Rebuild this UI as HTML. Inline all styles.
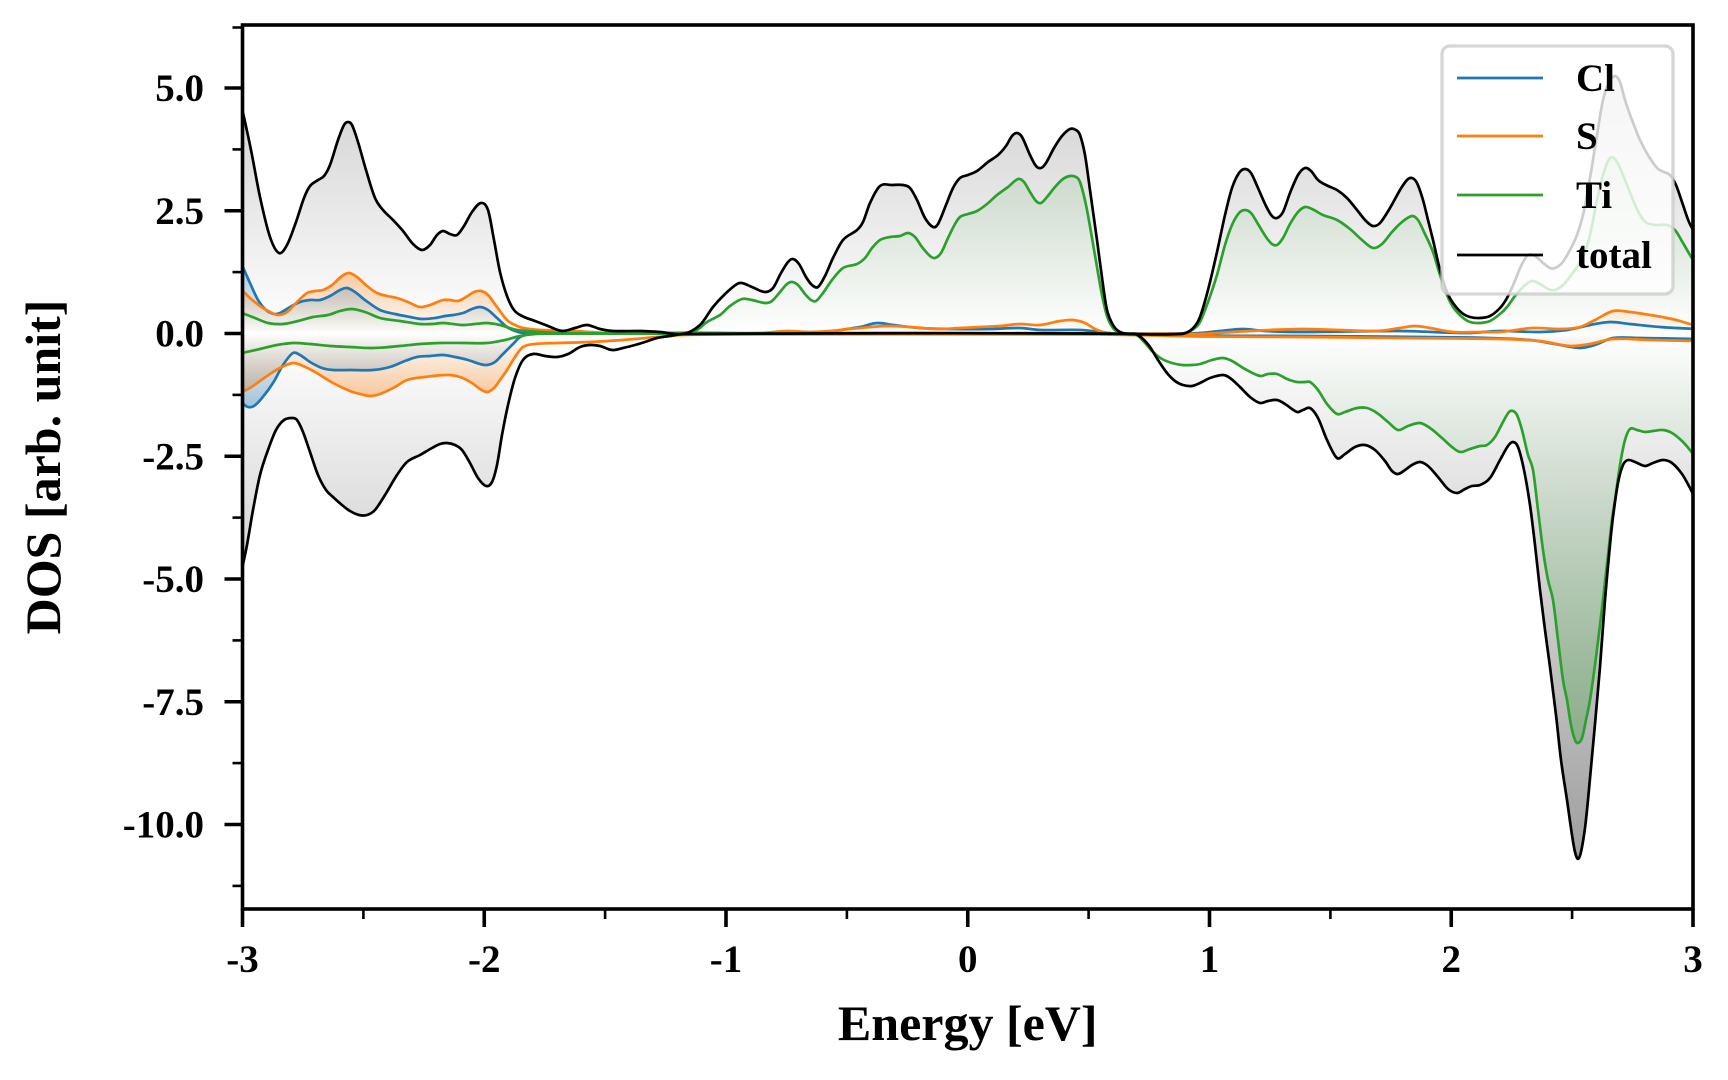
<!DOCTYPE html>
<html><head><meta charset="utf-8"><style>
html,body{margin:0;padding:0;background:#fff;}
svg{display:block;}
text{font-family:"Liberation Serif","DejaVu Serif",serif;font-weight:bold;fill:#000;}
</style></head><body>
<svg id="chart" width="1728" height="1080" viewBox="0 0 1728 1080" xmlns="http://www.w3.org/2000/svg">
<defs>
<clipPath id="ax"><rect x="242.5" y="25" width="1450.5" height="884"/></clipPath>
<linearGradient id="gTu" gradientUnits="userSpaceOnUse" x1="0" y1="333.5" x2="0" y2="-191.5"><stop offset="0" stop-color="#000" stop-opacity="0"/><stop offset="1" stop-color="#000" stop-opacity="0.38"/></linearGradient>
<linearGradient id="gTd" gradientUnits="userSpaceOnUse" x1="0" y1="333.5" x2="0" y2="858.5"><stop offset="0" stop-color="#000" stop-opacity="0"/><stop offset="1" stop-color="#000" stop-opacity="0.38"/></linearGradient>
<linearGradient id="gGu" gradientUnits="userSpaceOnUse" x1="0" y1="333.5" x2="0" y2="-73.5"><stop offset="0" stop-color="#2ca02c" stop-opacity="0"/><stop offset="1" stop-color="#2ca02c" stop-opacity="0.3"/></linearGradient>
<linearGradient id="gGd" gradientUnits="userSpaceOnUse" x1="0" y1="333.5" x2="0" y2="740.5"><stop offset="0" stop-color="#2ca02c" stop-opacity="0"/><stop offset="1" stop-color="#2ca02c" stop-opacity="0.3"/></linearGradient>
<linearGradient id="gSu" gradientUnits="userSpaceOnUse" x1="0" y1="333.5" x2="0" y2="269.5"><stop offset="0" stop-color="#ff7f0e" stop-opacity="0"/><stop offset="1" stop-color="#ff7f0e" stop-opacity="0.38"/></linearGradient>
<linearGradient id="gSd" gradientUnits="userSpaceOnUse" x1="0" y1="333.5" x2="0" y2="397.5"><stop offset="0" stop-color="#ff7f0e" stop-opacity="0"/><stop offset="1" stop-color="#ff7f0e" stop-opacity="0.38"/></linearGradient>
<linearGradient id="gCu" gradientUnits="userSpaceOnUse" x1="0" y1="333.5" x2="0" y2="259.5"><stop offset="0" stop-color="#1f77b4" stop-opacity="0"/><stop offset="1" stop-color="#1f77b4" stop-opacity="0.38"/></linearGradient>
<linearGradient id="gCd" gradientUnits="userSpaceOnUse" x1="0" y1="333.5" x2="0" y2="407.5"><stop offset="0" stop-color="#1f77b4" stop-opacity="0"/><stop offset="1" stop-color="#1f77b4" stop-opacity="0.38"/></linearGradient>
</defs>

<g id="data" clip-path="url(#ax)">
<!-- fills -->
<polygon fill="url(#gTu)" points="242,333.5 242,108 251,150 260,197 270,237 279,253 287,245 296,222 304,198 310,186 318,180 324,176 330,165 338,140 344,125 348,122 352,125 358,142 366,170 375,198 383,210 393,220 403,231 413,244 422,250 430,245 437,235 443,231 450,234 457,235 464,226 472,212 481,203 488,210 494,240 500,272 507,296 514,310 522,316 535,321 548,326 562,331 575,328 587,325 600,329 613,331 640,331 660,332 683,334 700,325 713,307 725,294 737,284 742,283 752,287 765,292 773,288 781,273 788,262 793,259 799,264 806,277 812,285 818,287 825,276 833,258 843,240 857,230 863,222 870,203 880,186 892,185 903,185 910,188 917,200 925,218 933,227 938,224 946,205 953,188 960,178 968,175 977,171 988,162 998,155 1006,146 1012,136 1017,133 1022,137 1030,155 1036,166 1041,168 1046,163 1054,148 1062,136 1070,129 1076,130 1080,135 1085,155 1090,190 1097,240 1103,285 1107,310 1113,325 1120,332 1130,334 1180,334 1188,332 1195,326 1200,317 1208,290 1217,252 1225,215 1232,188 1239,173 1245,169 1251,173 1258,188 1266,206 1272,216 1277,218 1283,212 1290,193 1298,175 1305,168 1311,171 1318,180 1326,185 1337,190 1347,198 1357,210 1366,221 1373,226 1380,223 1390,208 1400,190 1407,180 1412,178 1417,183 1423,200 1428,220 1433,240 1440,270 1447,292 1453,303 1462,313 1470,317 1480,318 1490,316 1500,308 1507,298 1514,283 1521,266 1528,255 1535,256 1542,262 1550,268 1555,268 1562,263 1570,250 1577,235 1583,215 1590,178 1597,135 1603,100 1609,82 1615,76 1620,82 1625,100 1632,120 1640,140 1648,155 1657,168 1664,172 1670,175 1676,185 1683,205 1689,222 1696,235 1696,333.5"/>
<polygon fill="url(#gTd)" points="242,333.5 242,569 247,545 253,510 260,475 268,450 276,430 284,420 292,418 297,420 303,432 310,452 318,475 326,490 333,497 342,505 350,511 359,515 367,515 375,510 385,495 397,475 407,462 420,455 432,448 440,444 447,443 455,445 462,450 470,463 478,478 486,486 492,482 497,465 502,435 508,405 515,378 523,360 533,354 545,356 557,357 568,354 580,347 590,345 600,346 612,350 623,348 635,345 645,342 657,338 670,336 683,334 1135,334 1143,339 1150,347 1158,360 1167,373 1175,381 1183,385 1192,386 1200,383 1210,378 1223,375 1230,378 1240,387 1250,397 1260,403 1268,401 1277,400 1285,404 1297,412 1303,410 1310,408 1318,418 1327,440 1337,458 1345,454 1355,447 1365,445 1375,450 1385,461 1392,471 1398,474 1405,470 1412,465 1420,462 1428,466 1438,477 1448,489 1457,493 1465,489 1472,486 1480,485 1490,478 1500,460 1508,446 1513,442 1518,447 1524,470 1530,505 1535,545 1540,590 1545,630 1550,667 1556,715 1561,760 1567,800 1572,835 1575,852 1578,859 1581,852 1585,828 1588,800 1594,735 1600,667 1605,600 1610,545 1613,517 1618,483 1623,465 1628,460 1635,462 1645,466 1653,463 1663,460 1672,463 1682,474 1690,488 1696,500 1696,333.5"/>
<polygon fill="url(#gGu)" points="242,333.5 242,313 255,318 268,323 283,324 298,321 313,317 328,315 340,311 352,309 365,312 380,318 400,321 420,324 432,324 443,323 453,324 463,325 475,324 487,323 500,325 517,330 540,332 560,333 600,333.5 650,333.5 687,333 697,330 707,322 720,315 730,306 742,299 752,300 765,303 772,301 780,292 787,284 792,282 798,285 805,294 811,300 816,301 823,293 832,280 843,268 857,264 865,258 872,248 880,240 890,237 900,236 908,233 915,237 922,247 930,256 935,258 941,253 948,238 955,224 960,217 968,214 977,211 987,204 997,195 1008,187 1018,179 1024,182 1030,192 1036,201 1041,203 1047,197 1055,187 1063,179 1070,176 1076,177 1080,182 1086,205 1092,238 1097,267 1102,295 1107,316 1113,328 1120,333 1130,334 1180,334 1188,332 1195,328 1200,322 1208,302 1217,275 1225,245 1232,225 1239,213 1245,210 1251,213 1258,224 1266,237 1272,244 1277,245 1283,238 1290,224 1298,212 1305,207 1312,209 1323,215 1337,220 1350,229 1362,240 1373,248 1382,244 1392,232 1402,222 1412,216 1418,220 1424,232 1433,252 1440,275 1447,295 1453,307 1462,317 1470,322 1480,323 1490,321 1500,314 1507,307 1515,296 1524,286 1532,281 1540,284 1548,289 1555,290 1563,285 1572,274 1583,257 1590,235 1597,200 1603,175 1610,158 1617,162 1625,180 1633,200 1640,215 1647,223 1657,225 1667,225 1675,230 1683,243 1690,255 1696,265 1696,333.5"/>
<polygon fill="url(#gGd)" points="242,333.5 242,353 260,349 277,345 293,343 310,344 330,346 350,347 373,348 400,346 420,344 440,343 465,343 487,343 505,340 520,336 535,334 560,333.5 1130,333.5 1138,336 1145,343 1153,352 1162,359 1172,363 1182,365 1192,365 1200,364 1212,360 1223,358 1232,361 1245,369 1260,376 1268,374 1277,374 1287,379 1297,382 1305,382 1310,382 1318,390 1327,404 1337,414 1345,412 1357,408 1367,408 1377,413 1388,422 1398,430 1408,426 1420,423 1430,428 1442,438 1452,447 1460,452 1470,449 1480,446 1487,445 1495,437 1503,422 1509,412 1513,411 1517,415 1522,430 1528,455 1533,470 1538,510 1543,550 1548,580 1553,600 1558,640 1563,680 1567,700 1571,725 1575,740 1578,743 1582,738 1586,720 1590,700 1595,665 1600,625 1603,600 1608,555 1612,520 1615,500 1620,465 1625,440 1630,429 1637,430 1645,432 1653,431 1663,430 1672,433 1682,441 1690,450 1696,458 1696,333.5"/>
<polygon fill="url(#gSu)" points="242,333.5 242,290 250,298 260,306 270,312 278,315 287,312 297,302 307,293 315,291 323,290 332,285 342,276 349,273 357,277 367,286 377,293 387,296 397,298 408,302 420,307 430,305 443,300 450,300 458,301 466,297 474,292 481,291 488,295 497,307 507,320 515,325 523,328 540,330 573,331 590,332 607,333 640,333 700,332.5 760,333 787,331 810,332 830,331 860,328 887,326 910,327 937,329 960,328 980,327 1000,326 1020,324 1040,325 1060,321 1073,320 1085,323 1095,329 1103,332 1115,333.5 1180,333.5 1200,334 1250,331 1300,329 1340,330 1377,331 1400,328 1415,326 1430,328 1453,332 1480,332 1500,332 1533,328 1560,329 1580,327 1595,320 1613,311 1630,312 1650,315 1667,318 1680,321 1696,326 1696,333.5"/>
<polygon fill="url(#gSd)" points="242,333.5 242,392 250,388 260,381 270,374 280,368 293,363 303,366 315,372 333,383 350,391 360,394 370,396 380,394 395,387 407,380 425,377 447,375 460,377 472,383 480,389 487,392 494,388 500,380 507,370 515,357 523,347 535,344 557,343 590,342 623,340 657,337 683,335 720,334.5 1100,334.5 1200,336.5 1300,337 1400,338 1500,339 1540,341 1570,346 1590,344 1613,339 1650,340 1696,341 1696,333.5"/>
<polygon fill="url(#gCu)" points="242,333.5 242,265 250,283 258,300 266,310 274,314 280,313 290,307 300,302 310,300 320,300 330,296 340,290 347,288 355,292 365,300 380,310 395,314 410,317 422,319 435,318 445,316 453,315 463,313 472,309 480,307 488,310 497,318 507,327 515,331 523,333 540,333.5 780,333.5 820,333 847,329 860,327 877,323 893,325 920,328 953,329 990,329 1020,328 1040,330 1080,330 1100,332 1115,333.5 1180,333.5 1200,333 1220,331 1243,329 1265,331 1300,332 1400,331 1467,333 1500,331 1540,332 1567,330 1590,325 1610,322 1630,324 1660,327 1696,329 1696,333.5"/>
<polygon fill="url(#gCd)" points="242,333.5 242,403 248,407 254,406 262,398 273,383 283,365 293,353 300,355 310,362 322,368 333,370 350,370 373,370 390,367 405,361 417,357 430,356 443,355 455,357 468,360 480,364 487,365 495,362 502,355 507,350 515,342 520,337 530,334 545,333.5 1150,333.5 1200,335.5 1300,336 1467,337.5 1530,340 1555,344 1580,348 1595,345 1613,338 1640,338 1696,339 1696,333.5"/>

<!-- lines -->
<g fill="none" stroke-width="2.7" stroke-linejoin="round" stroke-linecap="round">
<polyline stroke="#1f77b4" points="242,265 250,283 258,300 266,310 274,314 280,313 290,307 300,302 310,300 320,300 330,296 340,290 347,288 355,292 365,300 380,310 395,314 410,317 422,319 435,318 445,316 453,315 463,313 472,309 480,307 488,310 497,318 507,327 515,331 523,333 540,333.5 780,333.5 820,333 847,329 860,327 877,323 893,325 920,328 953,329 990,329 1020,328 1040,330 1080,330 1100,332 1115,333.5 1180,333.5 1200,333 1220,331 1243,329 1265,331 1300,332 1400,331 1467,333 1500,331 1540,332 1567,330 1590,325 1610,322 1630,324 1660,327 1696,329"/>
<polyline stroke="#1f77b4" points="242,403 248,407 254,406 262,398 273,383 283,365 293,353 300,355 310,362 322,368 333,370 350,370 373,370 390,367 405,361 417,357 430,356 443,355 455,357 468,360 480,364 487,365 495,362 502,355 507,350 515,342 520,337 530,334 545,333.5 1150,333.5 1200,335.5 1300,336 1467,337.5 1530,340 1555,344 1580,348 1595,345 1613,338 1640,338 1696,339"/>
<polyline stroke="#ff7f0e" points="242,290 250,298 260,306 270,312 278,315 287,312 297,302 307,293 315,291 323,290 332,285 342,276 349,273 357,277 367,286 377,293 387,296 397,298 408,302 420,307 430,305 443,300 450,300 458,301 466,297 474,292 481,291 488,295 497,307 507,320 515,325 523,328 540,330 573,331 590,332 607,333 640,333 700,332.5 760,333 787,331 810,332 830,331 860,328 887,326 910,327 937,329 960,328 980,327 1000,326 1020,324 1040,325 1060,321 1073,320 1085,323 1095,329 1103,332 1115,333.5 1180,333.5 1200,334 1250,331 1300,329 1340,330 1377,331 1400,328 1415,326 1430,328 1453,332 1480,332 1500,332 1533,328 1560,329 1580,327 1595,320 1613,311 1630,312 1650,315 1667,318 1680,321 1696,326"/>
<polyline stroke="#ff7f0e" points="242,392 250,388 260,381 270,374 280,368 293,363 303,366 315,372 333,383 350,391 360,394 370,396 380,394 395,387 407,380 425,377 447,375 460,377 472,383 480,389 487,392 494,388 500,380 507,370 515,357 523,347 535,344 557,343 590,342 623,340 657,337 683,335 720,334.5 1100,334.5 1200,336.5 1300,337 1400,338 1500,339 1540,341 1570,346 1590,344 1613,339 1650,340 1696,341"/>
<polyline stroke="#2ca02c" points="242,313 255,318 268,323 283,324 298,321 313,317 328,315 340,311 352,309 365,312 380,318 400,321 420,324 432,324 443,323 453,324 463,325 475,324 487,323 500,325 517,330 540,332 560,333 600,333.5 650,333.5 687,333 697,330 707,322 720,315 730,306 742,299 752,300 765,303 772,301 780,292 787,284 792,282 798,285 805,294 811,300 816,301 823,293 832,280 843,268 857,264 865,258 872,248 880,240 890,237 900,236 908,233 915,237 922,247 930,256 935,258 941,253 948,238 955,224 960,217 968,214 977,211 987,204 997,195 1008,187 1018,179 1024,182 1030,192 1036,201 1041,203 1047,197 1055,187 1063,179 1070,176 1076,177 1080,182 1086,205 1092,238 1097,267 1102,295 1107,316 1113,328 1120,333 1130,334 1180,334 1188,332 1195,328 1200,322 1208,302 1217,275 1225,245 1232,225 1239,213 1245,210 1251,213 1258,224 1266,237 1272,244 1277,245 1283,238 1290,224 1298,212 1305,207 1312,209 1323,215 1337,220 1350,229 1362,240 1373,248 1382,244 1392,232 1402,222 1412,216 1418,220 1424,232 1433,252 1440,275 1447,295 1453,307 1462,317 1470,322 1480,323 1490,321 1500,314 1507,307 1515,296 1524,286 1532,281 1540,284 1548,289 1555,290 1563,285 1572,274 1583,257 1590,235 1597,200 1603,175 1610,158 1617,162 1625,180 1633,200 1640,215 1647,223 1657,225 1667,225 1675,230 1683,243 1690,255 1696,265"/>
<polyline stroke="#2ca02c" points="242,353 260,349 277,345 293,343 310,344 330,346 350,347 373,348 400,346 420,344 440,343 465,343 487,343 505,340 520,336 535,334 560,333.5 1130,333.5 1138,336 1145,343 1153,352 1162,359 1172,363 1182,365 1192,365 1200,364 1212,360 1223,358 1232,361 1245,369 1260,376 1268,374 1277,374 1287,379 1297,382 1305,382 1310,382 1318,390 1327,404 1337,414 1345,412 1357,408 1367,408 1377,413 1388,422 1398,430 1408,426 1420,423 1430,428 1442,438 1452,447 1460,452 1470,449 1480,446 1487,445 1495,437 1503,422 1509,412 1513,411 1517,415 1522,430 1528,455 1533,470 1538,510 1543,550 1548,580 1553,600 1558,640 1563,680 1567,700 1571,725 1575,740 1578,743 1582,738 1586,720 1590,700 1595,665 1600,625 1603,600 1608,555 1612,520 1615,500 1620,465 1625,440 1630,429 1637,430 1645,432 1653,431 1663,430 1672,433 1682,441 1690,450 1696,458"/>
<polyline stroke="#000" points="242,108 251,150 260,197 270,237 279,253 287,245 296,222 304,198 310,186 318,180 324,176 330,165 338,140 344,125 348,122 352,125 358,142 366,170 375,198 383,210 393,220 403,231 413,244 422,250 430,245 437,235 443,231 450,234 457,235 464,226 472,212 481,203 488,210 494,240 500,272 507,296 514,310 522,316 535,321 548,326 562,331 575,328 587,325 600,329 613,331 640,331 660,332 683,334 700,325 713,307 725,294 737,284 742,283 752,287 765,292 773,288 781,273 788,262 793,259 799,264 806,277 812,285 818,287 825,276 833,258 843,240 857,230 863,222 870,203 880,186 892,185 903,185 910,188 917,200 925,218 933,227 938,224 946,205 953,188 960,178 968,175 977,171 988,162 998,155 1006,146 1012,136 1017,133 1022,137 1030,155 1036,166 1041,168 1046,163 1054,148 1062,136 1070,129 1076,130 1080,135 1085,155 1090,190 1097,240 1103,285 1107,310 1113,325 1120,332 1130,334 1180,334 1188,332 1195,326 1200,317 1208,290 1217,252 1225,215 1232,188 1239,173 1245,169 1251,173 1258,188 1266,206 1272,216 1277,218 1283,212 1290,193 1298,175 1305,168 1311,171 1318,180 1326,185 1337,190 1347,198 1357,210 1366,221 1373,226 1380,223 1390,208 1400,190 1407,180 1412,178 1417,183 1423,200 1428,220 1433,240 1440,270 1447,292 1453,303 1462,313 1470,317 1480,318 1490,316 1500,308 1507,298 1514,283 1521,266 1528,255 1535,256 1542,262 1550,268 1555,268 1562,263 1570,250 1577,235 1583,215 1590,178 1597,135 1603,100 1609,82 1615,76 1620,82 1625,100 1632,120 1640,140 1648,155 1657,168 1664,172 1670,175 1676,185 1683,205 1689,222 1696,235"/>
<polyline stroke="#000" points="242,569 247,545 253,510 260,475 268,450 276,430 284,420 292,418 297,420 303,432 310,452 318,475 326,490 333,497 342,505 350,511 359,515 367,515 375,510 385,495 397,475 407,462 420,455 432,448 440,444 447,443 455,445 462,450 470,463 478,478 486,486 492,482 497,465 502,435 508,405 515,378 523,360 533,354 545,356 557,357 568,354 580,347 590,345 600,346 612,350 623,348 635,345 645,342 657,338 670,336 683,334 1135,334 1143,339 1150,347 1158,360 1167,373 1175,381 1183,385 1192,386 1200,383 1210,378 1223,375 1230,378 1240,387 1250,397 1260,403 1268,401 1277,400 1285,404 1297,412 1303,410 1310,408 1318,418 1327,440 1337,458 1345,454 1355,447 1365,445 1375,450 1385,461 1392,471 1398,474 1405,470 1412,465 1420,462 1428,466 1438,477 1448,489 1457,493 1465,489 1472,486 1480,485 1490,478 1500,460 1508,446 1513,442 1518,447 1524,470 1530,505 1535,545 1540,590 1545,630 1550,667 1556,715 1561,760 1567,800 1572,835 1575,852 1578,859 1581,852 1585,828 1588,800 1594,735 1600,667 1605,600 1610,545 1613,517 1618,483 1623,465 1628,460 1635,462 1645,466 1653,463 1663,460 1672,463 1682,474 1690,488 1696,500"/>
</g>
</g>

<!-- legend -->
<rect x="1442" y="46" width="231" height="248" rx="8" ry="8" fill="#fff" fill-opacity="0.8" stroke="#cccccc" stroke-opacity="0.8" stroke-width="3.3"/>
<g stroke-width="2.7">
<line x1="1457" y1="78" x2="1543" y2="78" stroke="#1f77b4"/>
<line x1="1457" y1="136" x2="1543" y2="136" stroke="#ff7f0e"/>
<line x1="1457" y1="195" x2="1543" y2="195" stroke="#2ca02c"/>
<line x1="1457" y1="255" x2="1543" y2="255" stroke="#000"/>
</g>
<g font-size="39">
<text x="1576" y="91">Cl</text>
<text x="1576" y="149">S</text>
<text x="1576" y="208">Ti</text>
<text x="1576" y="268">total</text>
</g>

<!-- spines -->
<rect x="242.5" y="25" width="1450.5" height="884" fill="none" stroke="#000" stroke-width="3.6"/>

<!-- x ticks -->
<g stroke="#000" stroke-width="3.6">
<line x1="242.5" y1="909" x2="242.5" y2="927"/>
<line x1="484.25" y1="909" x2="484.25" y2="927"/>
<line x1="726" y1="909" x2="726" y2="927"/>
<line x1="967.75" y1="909" x2="967.75" y2="927"/>
<line x1="1209.5" y1="909" x2="1209.5" y2="927"/>
<line x1="1451.25" y1="909" x2="1451.25" y2="927"/>
<line x1="1693" y1="909" x2="1693" y2="927"/>
</g>
<g stroke="#000" stroke-width="2.6">
<line x1="363.4" y1="909" x2="363.4" y2="919"/>
<line x1="605.1" y1="909" x2="605.1" y2="919"/>
<line x1="846.9" y1="909" x2="846.9" y2="919"/>
<line x1="1088.6" y1="909" x2="1088.6" y2="919"/>
<line x1="1330.4" y1="909" x2="1330.4" y2="919"/>
<line x1="1572.1" y1="909" x2="1572.1" y2="919"/>
</g>
<!-- y ticks -->
<g stroke="#000" stroke-width="3.6">
<line x1="224.5" y1="88" x2="242.5" y2="88"/>
<line x1="224.5" y1="210.75" x2="242.5" y2="210.75"/>
<line x1="224.5" y1="333.5" x2="242.5" y2="333.5"/>
<line x1="224.5" y1="456.25" x2="242.5" y2="456.25"/>
<line x1="224.5" y1="579" x2="242.5" y2="579"/>
<line x1="224.5" y1="701.75" x2="242.5" y2="701.75"/>
<line x1="224.5" y1="824.5" x2="242.5" y2="824.5"/>
</g>
<g stroke="#000" stroke-width="2.6">
<line x1="232.5" y1="27.5" x2="242.5" y2="27.5"/>
<line x1="232.5" y1="149.4" x2="242.5" y2="149.4"/>
<line x1="232.5" y1="272.1" x2="242.5" y2="272.1"/>
<line x1="232.5" y1="394.9" x2="242.5" y2="394.9"/>
<line x1="232.5" y1="517.6" x2="242.5" y2="517.6"/>
<line x1="232.5" y1="640.4" x2="242.5" y2="640.4"/>
<line x1="232.5" y1="763.1" x2="242.5" y2="763.1"/>
<line x1="232.5" y1="885.9" x2="242.5" y2="885.9"/>
</g>

<!-- tick labels -->
<g font-size="39" text-anchor="middle">
<text x="242.5" y="972">-3</text>
<text x="484.25" y="972">-2</text>
<text x="726" y="972">-1</text>
<text x="967.75" y="972">0</text>
<text x="1209.5" y="972">1</text>
<text x="1451.25" y="972">2</text>
<text x="1693" y="972">3</text>
</g>
<g font-size="39" text-anchor="end">
<text x="204" y="101">5.0</text>
<text x="204" y="223.75">2.5</text>
<text x="204" y="346.5">0.0</text>
<text x="204" y="469.25">-2.5</text>
<text x="204" y="592">-5.0</text>
<text x="204" y="714.75">-7.5</text>
<text x="204" y="837.5">-10.0</text>
</g>

<!-- axis labels -->
<text x="967.75" y="1040" font-size="50" text-anchor="middle">Energy [eV]</text>
<text transform="translate(60,467) rotate(-90)" font-size="50" text-anchor="middle">DOS [arb. unit]</text>
</svg>
<script>
(function(){
  try{
    var NS="http://www.w3.org/2000/svg";
    var els=document.querySelectorAll('#data polyline, #data polygon');
    for(var k=0;k<els.length;k++){
      var el=els[k];
      var pts=el.getAttribute('points').trim().split(/\s+/).map(function(s){return s.split(',').map(Number);});
      var isPoly=el.tagName.toLowerCase()==='polygon';
      var a=isPoly?pts.slice(1,-1):pts;
      var n=a.length; if(n<3) continue;
      var m=[];
      for(var i=0;i<n;i++){
        var p0=a[Math.max(0,i-1)], p1=a[Math.min(n-1,i+1)];
        var dx=p1[0]-p0[0];
        m.push(dx!==0?(p1[1]-p0[1])/dx:0);
      }
      var d=isPoly?('M'+pts[0][0]+','+pts[0][1]+' L'+a[0][0]+','+a[0][1]):('M'+a[0][0]+','+a[0][1]);
      for(var j=0;j<n-1;j++){
        var h=a[j+1][0]-a[j][0];
        if(h<=0){d+=' L'+a[j+1][0]+','+a[j+1][1];continue;}
        var c1x=a[j][0]+h/3, c1y=a[j][1]+m[j]*h/3;
        var c2x=a[j+1][0]-h/3, c2y=a[j+1][1]-m[j+1]*h/3;
        d+=' C'+c1x.toFixed(2)+','+c1y.toFixed(2)+' '+c2x.toFixed(2)+','+c2y.toFixed(2)+' '+a[j+1][0]+','+a[j+1][1];
      }
      if(isPoly){var L=pts[pts.length-1];d+=' L'+L[0]+','+L[1]+' Z';}
      var p=document.createElementNS(NS,'path');
      for(var q=0;q<el.attributes.length;q++){
        var at=el.attributes[q];
        if(at.name!=='points') p.setAttribute(at.name,at.value);
      }
      p.setAttribute('d',d);
      el.parentNode.replaceChild(p,el);
    }
  }catch(e){}
})();
</script>
</body></html>
